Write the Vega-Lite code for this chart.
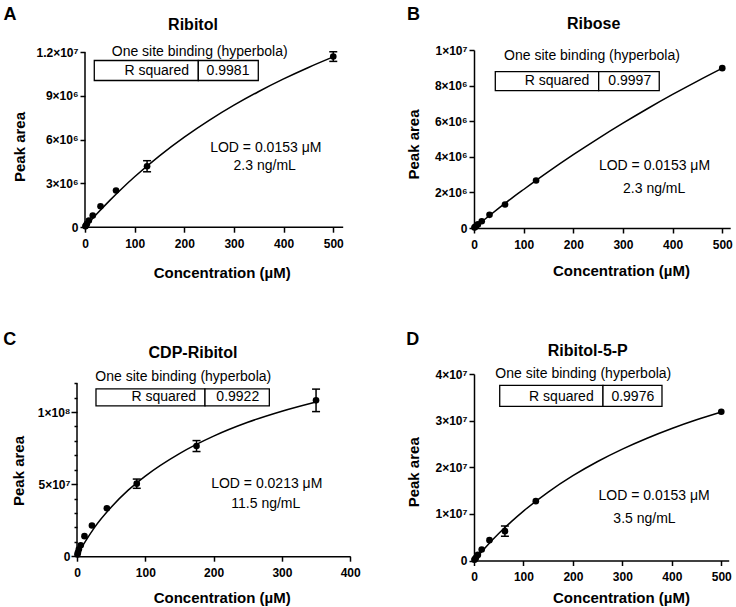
{
  "$schema": "https://vega.github.io/schema/vega-lite/v6.json",
  "padding": {"left": 3, "top": 5, "right": 0, "bottom": 0},
  "config": {
    "font": "Liberation Sans",
    "view": {"stroke": null},
    "axis": {
      "grid": false, "tickCount": 50,
      "domainColor": "black", "domainWidth": 1.5,
      "tickColor": "black", "tickWidth": 1.5, "tickSize": 5,
      "labelFont": "Liberation Sans", "labelFontSize": 12, "labelFontWeight": "bold", "labelColor": "black",
      "labelFlush": false, "labelOverlap": false, "labelBound": false,
      "titleFont": "Liberation Sans", "titleFontSize": 15, "titleFontWeight": "bold", "titleColor": "black",
      "titleAlign": "center", "titleBaseline": "middle"
    },
    "axisX": {"labelPadding": 6},
    "axisY": {"labelPadding": 2}
  },
  "datasets": {
    "ptsA": [{"x":0.98,"y":60000},{"x":1.95,"y":120000},{"x":3.9,"y":230000},{"x":7.8,"y":460000},{"x":15.6,"y":800000},{"x":31.25,"y":1440000},{"x":62.5,"y":2520000},{"x":125,"y":4180000},{"x":500,"y":11700000}],
    "errA": [{"x":125,"lo":3800000,"hi":4560000},{"x":500,"lo":11370000,"hi":12030000}],
    "curveA": [{"x":0,"y":0},{"x":5,"y":195000},{"x":10,"y":388000},{"x":25,"y":950000},{"x":50,"y":1839000},{"x":75,"y":2673000},{"x":100,"y":3457000},{"x":150,"y":4892000},{"x":200,"y":6174000},{"x":250,"y":7325000},{"x":300,"y":8364000},{"x":350,"y":9307000},{"x":400,"y":10168000},{"x":450,"y":10955000},{"x":500,"y":11679000}],
    "ptsB": [{"x":0.98,"y":25000},{"x":1.95,"y":50000},{"x":3.9,"y":100000},{"x":7.8,"y":200000},{"x":15.6,"y":380000},{"x":31.25,"y":740000},{"x":62.5,"y":1320000},{"x":125,"y":2670000},{"x":500,"y":8980000}],
    "curveB": [{"x":0,"y":0},{"x":5,"y":113700},{"x":10,"y":226900},{"x":25,"y":563000},{"x":50,"y":1113500},{"x":75,"y":1651000},{"x":100,"y":2164000},{"x":150,"y":3165000},{"x":200,"y":4117000},{"x":250,"y":5024000},{"x":300,"y":5888000},{"x":350,"y":6714000},{"x":400,"y":7502000},{"x":450,"y":8255000},{"x":500,"y":8976000}],
    "ptsC": [{"x":0.68,"y":1200000},{"x":1.37,"y":2500000},{"x":2.73,"y":4800000},{"x":5.47,"y":7600000},{"x":10.94,"y":13900000},{"x":21.88,"y":21300000},{"x":43.75,"y":33300000},{"x":87.5,"y":50300000},{"x":175,"y":76400000},{"x":350,"y":108100000}],
    "errC": [{"x":87.5,"lo":47100000,"hi":53500000},{"x":175,"lo":72600000,"hi":80200000},{"x":350,"lo":100300000,"hi":115900000}],
    "curveC": [{"x":0,"y":0},{"x":5,"y":4500000},{"x":10,"y":8500000},{"x":25,"y":19500000},{"x":50,"y":34000000},{"x":75,"y":45800000},{"x":100,"y":55600000},{"x":150,"y":71200000},{"x":200,"y":83300000},{"x":250,"y":92900000},{"x":300,"y":100600000},{"x":350,"y":107000000}],
    "ptsD": [{"x":0.98,"y":150000},{"x":1.95,"y":300000},{"x":3.9,"y":600000},{"x":7.8,"y":1200000},{"x":15.6,"y":2360000},{"x":31.25,"y":4360000},{"x":62.5,"y":6290000},{"x":125,"y":12730000},{"x":500,"y":31900000}],
    "errD": [{"x":62.5,"lo":5200000,"hi":7400000}],
    "curveD": [{"x":0,"y":0},{"x":5,"y":629000},{"x":10,"y":1246000},{"x":25,"y":3027000},{"x":50,"y":5780000},{"x":75,"y":8290000},{"x":100,"y":10600000},{"x":150,"y":14680000},{"x":200,"y":18190000},{"x":250,"y":21230000},{"x":300,"y":23890000},{"x":350,"y":26230000},{"x":400,"y":28320000},{"x":450,"y":30180000},{"x":500,"y":31860000}]
  },
  "spacing": 50,
  "vconcat": [
    {
      "spacing": 62,
      "hconcat": [
        {
          "width": 266.2, "height": 177.2,
          "layer": [
            {"data": {"name": "curveA"}, "mark": {"type": "line", "color": "black", "strokeWidth": 1.5, "interpolate": "monotone"},
             "encoding": {
               "x": {"field": "x", "type": "quantitative", "scale": {"domain": [-16.11, 520], "nice": false, "zero": false},
                     "axis": {"title": "Concentration (µM)", "values": [0,100,200,300,400,500], "domain": false, "titleX": 144.7, "titleY": 44.8}},
               "y": {"field": "y", "type": "quantitative", "scale": {"domain": [0, 12150857], "nice": false, "zero": false},
                     "axis": {"title": "Peak area", "values": [0,3000000,6000000,9000000,12000000], "domain": false, "offset": -8, "labelExpr": "datum.value == 0 ? '0' : datum.value == 12000000 ? '1.2×10⁷' : (datum.value / 1000000) + '×10⁶'", "titleX": -66, "titleY": 96.5}}}},
            {"data": {"values": [{}]}, "mark": {"type": "rule", "color": "black", "strokeWidth": 1.5},
             "encoding": {"x": {"datum": 0}, "x2": {"datum": 520}, "y": {"datum": 0}}},
            {"data": {"values": [{}]}, "mark": {"type": "rule", "color": "black", "strokeWidth": 1.5},
             "encoding": {"x": {"datum": 0}, "y": {"datum": 0}, "y2": {"datum": 12000000}}},
            {"data": {"name": "errA"}, "mark": {"type": "rule", "color": "black", "strokeWidth": 1.5},
             "encoding": {"x": {"field": "x", "type": "quantitative"}, "y": {"field": "lo", "type": "quantitative"}, "y2": {"field": "hi"}}},
            {"data": {"name": "errA"}, "mark": {"type": "tick", "orient": "horizontal", "color": "black", "size": 8, "thickness": 1.5, "opacity": 1},
             "encoding": {"x": {"field": "x", "type": "quantitative"}, "y": {"field": "lo", "type": "quantitative"}}},
            {"data": {"name": "errA"}, "mark": {"type": "tick", "orient": "horizontal", "color": "black", "size": 8, "thickness": 1.5, "opacity": 1},
             "encoding": {"x": {"field": "x", "type": "quantitative"}, "y": {"field": "hi", "type": "quantitative"}}},
            {"data": {"name": "ptsA"}, "mark": {"type": "circle", "size": 44, "color": "black", "opacity": 1},
             "encoding": {"x": {"field": "x", "type": "quantitative"}, "y": {"field": "y", "type": "quantitative"}}},
            {"data": {"values": [{}]}, "mark": {"type": "rect", "fill": "white", "stroke": "black", "strokeWidth": 1.3},
             "encoding": {"x": {"datum": 18.7}, "x2": {"datum": 228.2}, "y": {"datum": 11430000}, "y2": {"datum": 10060000}}},
            {"data": {"values": [{}]}, "mark": {"type": "rect", "fill": "white", "stroke": "black", "strokeWidth": 1.3},
             "encoding": {"x": {"datum": 228.2}, "x2": {"datum": 349}, "y": {"datum": 11430000}, "y2": {"datum": 10060000}}},
            {"data": {"values": [{"t": "A"}]}, "mark": {"type": "text", "fontSize": 18, "fontWeight": "bold", "align": "left", "baseline": "alphabetic", "color": "black"},
             "encoding": {"x": {"datum": -164.1}, "y": {"datum": 14240000}, "text": {"field": "t"}}},
            {"data": {"values": [{"t": "Ribitol"}]}, "mark": {"type": "text", "fontSize": 16, "fontWeight": "bold", "align": "center", "baseline": "alphabetic", "color": "black"},
             "encoding": {"x": {"datum": 217.5}, "y": {"datum": 13540000}, "text": {"field": "t"}}},
            {"data": {"values": [{"t": "One site binding (hyperbola)"}]}, "mark": {"type": "text", "fontSize": 14, "align": "center", "baseline": "alphabetic", "color": "black"},
             "encoding": {"x": {"datum": 231}, "y": {"datum": 11770000}, "text": {"field": "t"}}},
            {"data": {"values": [{"t": "R squared"}]}, "mark": {"type": "text", "fontSize": 14, "align": "right", "baseline": "alphabetic", "color": "black"},
             "encoding": {"x": {"datum": 209.4}, "y": {"datum": 10470000}, "text": {"field": "t"}}},
            {"data": {"values": [{"t": "0.9981"}]}, "mark": {"type": "text", "fontSize": 14, "align": "center", "baseline": "alphabetic", "color": "black"},
             "encoding": {"x": {"datum": 288}, "y": {"datum": 10470000}, "text": {"field": "t"}}},
            {"data": {"values": [{"t": "LOD = 0.0153 μM"}]}, "mark": {"type": "text", "fontSize": 14, "align": "center", "baseline": "alphabetic", "color": "black"},
             "encoding": {"x": {"datum": 364.1}, "y": {"datum": 5140000}, "text": {"field": "t"}}},
            {"data": {"values": [{"t": "2.3 ng/mL"}]}, "mark": {"type": "text", "fontSize": 14, "align": "center", "baseline": "alphabetic", "color": "black"},
             "encoding": {"x": {"datum": 361.9}, "y": {"datum": 3940000}, "text": {"field": "t"}}}
          ]
        },
        {
          "width": 256.2, "height": 178,
          "layer": [
            {"data": {"name": "curveB"}, "mark": {"type": "line", "color": "black", "strokeWidth": 1.5, "interpolate": "monotone"},
             "encoding": {
               "x": {"field": "x", "type": "quantitative", "scale": {"domain": [0, 516], "nice": false, "zero": false},
                     "axis": {"title": "Concentration (µM)", "values": [0,100,200,300,400,500], "titleX": 147, "titleY": 42.5}},
               "y": {"field": "y", "type": "quantitative", "scale": {"domain": [0, 10000000], "nice": false, "zero": false},
                     "axis": {"title": "Peak area", "values": [0,2000000,4000000,6000000,8000000,10000000], "labelExpr": "datum.value == 0 ? '0' : datum.value == 10000000 ? '1×10⁷' : (datum.value / 1000000) + '×10⁶'", "titleX": -60.8, "titleY": 94}}}},
            {"data": {"name": "ptsB"}, "mark": {"type": "circle", "size": 44, "color": "black", "opacity": 1},
             "encoding": {"x": {"field": "x", "type": "quantitative"}, "y": {"field": "y", "type": "quantitative"}}},
            {"data": {"values": [{}]}, "mark": {"type": "rect", "fill": "white", "stroke": "black", "strokeWidth": 1.3},
             "encoding": {"x": {"datum": 42.9}, "x2": {"datum": 251.1}, "y": {"datum": 8790000}, "y2": {"datum": 7720000}}},
            {"data": {"values": [{}]}, "mark": {"type": "rect", "fill": "white", "stroke": "black", "strokeWidth": 1.3},
             "encoding": {"x": {"datum": 251.1}, "x2": {"datum": 373.1}, "y": {"datum": 8790000}, "y2": {"datum": 7720000}}},
            {"data": {"values": [{"t": "B"}]}, "mark": {"type": "text", "fontSize": 18, "fontWeight": "bold", "align": "left", "baseline": "alphabetic", "color": "black"},
             "encoding": {"x": {"datum": -135}, "y": {"datum": 11710000}, "text": {"field": "t"}}},
            {"data": {"values": [{"t": "Ribose"}]}, "mark": {"type": "text", "fontSize": 16, "fontWeight": "bold", "align": "center", "baseline": "alphabetic", "color": "black"},
             "encoding": {"x": {"datum": 241}, "y": {"datum": 11190000}, "text": {"field": "t"}}},
            {"data": {"values": [{"t": "One site binding (hyperbola)"}]}, "mark": {"type": "text", "fontSize": 14, "align": "center", "baseline": "alphabetic", "color": "black"},
             "encoding": {"x": {"datum": 237.6}, "y": {"datum": 9450000}, "text": {"field": "t"}}},
            {"data": {"values": [{"t": "R squared"}]}, "mark": {"type": "text", "fontSize": 14, "align": "right", "baseline": "alphabetic", "color": "black"},
             "encoding": {"x": {"datum": 232.2}, "y": {"datum": 8040000}, "text": {"field": "t"}}},
            {"data": {"values": [{"t": "0.9997"}]}, "mark": {"type": "text", "fontSize": 14, "align": "center", "baseline": "alphabetic", "color": "black"},
             "encoding": {"x": {"datum": 313.7}, "y": {"datum": 8040000}, "text": {"field": "t"}}},
            {"data": {"values": [{"t": "LOD = 0.0153 μM"}]}, "mark": {"type": "text", "fontSize": 14, "align": "center", "baseline": "alphabetic", "color": "black"},
             "encoding": {"x": {"datum": 363.5}, "y": {"datum": 3270000}, "text": {"field": "t"}}},
            {"data": {"values": [{"t": "2.3 ng/mL"}]}, "mark": {"type": "text", "fontSize": 14, "align": "center", "baseline": "alphabetic", "color": "black"},
             "encoding": {"x": {"datum": 362.9}, "y": {"datum": 1955000}, "text": {"field": "t"}}}
          ]
        }
      ]
    },
    {
      "spacing": 45,
      "hconcat": [
        {
          "width": 273.2, "height": 182.2,
          "resolve": {"axis": {"y": "independent"}},
          "layer": [
            {
              "layer": [
                {"data": {"name": "curveC"}, "mark": {"type": "line", "color": "black", "strokeWidth": 1.5, "interpolate": "monotone"},
                 "encoding": {
                   "x": {"field": "x", "type": "quantitative", "scale": {"domain": [0, 400], "nice": false, "zero": false},
                         "axis": {"title": "Concentration (µM)", "values": [0,100,200,300,400], "titleX": 144.7, "titleY": 41.3}},
                   "y": {"field": "y", "type": "quantitative", "scale": {"domain": [0, 126381503], "nice": false, "zero": false},
                         "axis": {"title": "Peak area", "values": [0,50000000,100000000], "domain": false,
                                  "labelExpr": "datum.value == 0 ? '0' : datum.value == 50000000 ? '5×10⁷' : '1×10⁸'",
                                  "tickSize": 6, "labelPadding": 1,
                                  "titleX": -58.3, "titleY": 96.5}}}},
                {"data": {"values": [{}]}, "mark": {"type": "rule", "color": "black", "strokeWidth": 1.5},
                 "encoding": {"x": {"datum": 0}, "y": {"datum": 0}, "y2": {"datum": 120000000}}},
                {"data": {"name": "errC"}, "mark": {"type": "rule", "color": "black", "strokeWidth": 1.5},
                 "encoding": {"x": {"field": "x", "type": "quantitative"}, "y": {"field": "lo", "type": "quantitative"}, "y2": {"field": "hi"}}},
                {"data": {"name": "errC"}, "mark": {"type": "tick", "orient": "horizontal", "color": "black", "size": 8, "thickness": 1.5, "opacity": 1},
                 "encoding": {"x": {"field": "x", "type": "quantitative"}, "y": {"field": "lo", "type": "quantitative"}}},
                {"data": {"name": "errC"}, "mark": {"type": "tick", "orient": "horizontal", "color": "black", "size": 8, "thickness": 1.5, "opacity": 1},
                 "encoding": {"x": {"field": "x", "type": "quantitative"}, "y": {"field": "hi", "type": "quantitative"}}},
                {"data": {"name": "ptsC"}, "mark": {"type": "circle", "size": 44, "color": "black", "opacity": 1},
                 "encoding": {"x": {"field": "x", "type": "quantitative"}, "y": {"field": "y", "type": "quantitative"}}},
                {"data": {"values": [{}]}, "mark": {"type": "rect", "fill": "white", "stroke": "black", "strokeWidth": 1.3},
                 "encoding": {"x": {"datum": 27.8}, "x2": {"datum": 187.4}, "y": {"datum": 116100000}, "y2": {"datum": 104300000}}},
                {"data": {"values": [{}]}, "mark": {"type": "rect", "fill": "white", "stroke": "black", "strokeWidth": 1.3},
                 "encoding": {"x": {"datum": 187.4}, "x2": {"datum": 281.6}, "y": {"datum": 116100000}, "y2": {"datum": 104300000}}},
                {"data": {"values": [{"t": "C"}]}, "mark": {"type": "text", "fontSize": 18, "fontWeight": "bold", "align": "left", "baseline": "alphabetic", "color": "black"},
                 "encoding": {"x": {"datum": -107.9}, "y": {"datum": 146600000}, "text": {"field": "t"}}},
                {"data": {"values": [{"t": "CDP-Ribitol"}]}, "mark": {"type": "text", "fontSize": 16, "fontWeight": "bold", "align": "center", "baseline": "alphabetic", "color": "black"},
                 "encoding": {"x": {"datum": 169.8}, "y": {"datum": 137300000}, "text": {"field": "t"}}},
                {"data": {"values": [{"t": "One site binding (hyperbola)"}]}, "mark": {"type": "text", "fontSize": 14, "align": "center", "baseline": "alphabetic", "color": "black"},
                 "encoding": {"x": {"datum": 155.6}, "y": {"datum": 121200000}, "text": {"field": "t"}}},
                {"data": {"values": [{"t": "R squared"}]}, "mark": {"type": "text", "fontSize": 14, "align": "right", "baseline": "alphabetic", "color": "black"},
                 "encoding": {"x": {"datum": 174.2}, "y": {"datum": 107800000}, "text": {"field": "t"}}},
                {"data": {"values": [{"t": "0.9922"}]}, "mark": {"type": "text", "fontSize": 14, "align": "center", "baseline": "alphabetic", "color": "black"},
                 "encoding": {"x": {"datum": 235.4}, "y": {"datum": 107800000}, "text": {"field": "t"}}},
                {"data": {"values": [{"t": "LOD = 0.0213 μM"}]}, "mark": {"type": "text", "fontSize": 14, "align": "center", "baseline": "alphabetic", "color": "black"},
                 "encoding": {"x": {"datum": 277.8}, "y": {"datum": 47170000}, "text": {"field": "t"}}},
                {"data": {"values": [{"t": "11.5 ng/mL"}]}, "mark": {"type": "text", "fontSize": 14, "align": "center", "baseline": "alphabetic", "color": "black"},
                 "encoding": {"x": {"datum": 276.4}, "y": {"datum": 33780000}, "text": {"field": "t"}}}
              ]
            },
            {"data": {"name": "ptsC"}, "mark": {"type": "circle", "opacity": 0},
             "encoding": {"x": {"field": "x", "type": "quantitative"},
                          "y": {"field": "y", "type": "quantitative",
                                "axis": {"orient": "left", "values": [10000000,20000000,30000000,40000000,60000000,70000000,80000000,90000000,110000000,120000000], "tickSize": 3, "labels": false, "domain": false, "title": null}}}}
          ]
        },
        {
          "width": 254.7, "height": 186.5,
          "layer": [
            {"data": {"name": "curveD"}, "mark": {"type": "line", "color": "black", "strokeWidth": 1.5, "interpolate": "monotone"},
             "encoding": {
               "x": {"field": "x", "type": "quantitative", "scale": {"domain": [0, 515], "nice": false, "zero": false},
                     "axis": {"title": "Concentration (µM)", "values": [0,100,200,300,400,500], "titleX": 147, "titleY": 37}},
               "y": {"field": "y", "type": "quantitative", "scale": {"domain": [0, 40000000], "nice": false, "zero": false},
                     "axis": {"title": "Peak area", "values": [0,10000000,20000000,30000000,40000000], "labelExpr": "datum.value == 0 ? '0' : (datum.value / 10000000) + '×10⁷'", "titleX": -60.8, "titleY": 97.8}}}},
            {"data": {"name": "errD"}, "mark": {"type": "rule", "color": "black", "strokeWidth": 1.5},
             "encoding": {"x": {"field": "x", "type": "quantitative"}, "y": {"field": "lo", "type": "quantitative"}, "y2": {"field": "hi"}}},
            {"data": {"name": "errD"}, "mark": {"type": "tick", "orient": "horizontal", "color": "black", "size": 8, "thickness": 1.5, "opacity": 1},
             "encoding": {"x": {"field": "x", "type": "quantitative"}, "y": {"field": "lo", "type": "quantitative"}}},
            {"data": {"name": "errD"}, "mark": {"type": "tick", "orient": "horizontal", "color": "black", "size": 8, "thickness": 1.5, "opacity": 1},
             "encoding": {"x": {"field": "x", "type": "quantitative"}, "y": {"field": "hi", "type": "quantitative"}}},
            {"data": {"name": "ptsD"}, "mark": {"type": "circle", "size": 44, "color": "black", "opacity": 1},
             "encoding": {"x": {"field": "x", "type": "quantitative"}, "y": {"field": "y", "type": "quantitative"}}},
            {"data": {"values": [{}]}, "mark": {"type": "rect", "fill": "white", "stroke": "black", "strokeWidth": 1.3},
             "encoding": {"x": {"datum": 52}, "x2": {"datum": 260.8}, "y": {"datum": 37550000}, "y2": {"datum": 33050000}}},
            {"data": {"values": [{}]}, "mark": {"type": "rect", "fill": "white", "stroke": "black", "strokeWidth": 1.3},
             "encoding": {"x": {"datum": 260.8}, "x2": {"datum": 380.1}, "y": {"datum": 37550000}, "y2": {"datum": 33050000}}},
            {"data": {"values": [{"t": "D"}]}, "mark": {"type": "text", "fontSize": 18, "fontWeight": "bold", "align": "left", "baseline": "alphabetic", "color": "black"},
             "encoding": {"x": {"datum": -136.9}, "y": {"datum": 46290000}, "text": {"field": "t"}}},
            {"data": {"values": [{"t": "Ribitol-5-P"}]}, "mark": {"type": "text", "fontSize": 16, "fontWeight": "bold", "align": "center", "baseline": "alphabetic", "color": "black"},
             "encoding": {"x": {"datum": 230.1}, "y": {"datum": 43780000}, "text": {"field": "t"}}},
            {"data": {"values": [{"t": "One site binding (hyperbola)"}]}, "mark": {"type": "text", "fontSize": 14, "align": "center", "baseline": "alphabetic", "color": "black"},
             "encoding": {"x": {"datum": 221}, "y": {"datum": 39120000}, "text": {"field": "t"}}},
            {"data": {"values": [{"t": "R squared"}]}, "mark": {"type": "text", "fontSize": 14, "align": "right", "baseline": "alphabetic", "color": "black"},
             "encoding": {"x": {"datum": 242}, "y": {"datum": 34120000}, "text": {"field": "t"}}},
            {"data": {"values": [{"t": "0.9976"}]}, "mark": {"type": "text", "fontSize": 14, "align": "center", "baseline": "alphabetic", "color": "black"},
             "encoding": {"x": {"datum": 321.1}, "y": {"datum": 34120000}, "text": {"field": "t"}}},
            {"data": {"values": [{"t": "LOD = 0.0153 μM"}]}, "mark": {"type": "text", "fontSize": 14, "align": "center", "baseline": "alphabetic", "color": "black"},
             "encoding": {"x": {"datum": 364.3}, "y": {"datum": 13030000}, "text": {"field": "t"}}},
            {"data": {"values": [{"t": "3.5 ng/mL"}]}, "mark": {"type": "text", "fontSize": 14, "align": "center", "baseline": "alphabetic", "color": "black"},
             "encoding": {"x": {"datum": 344.7}, "y": {"datum": 8150000}, "text": {"field": "t"}}}
          ]
        }
      ]
    }
  ]
}
